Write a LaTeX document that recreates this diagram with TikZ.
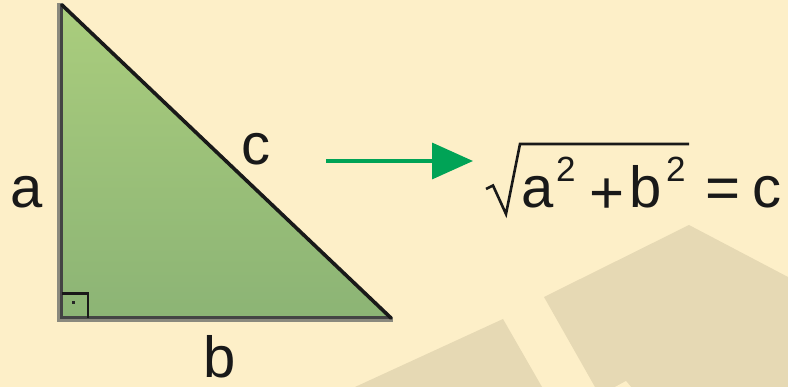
\documentclass[tikz,border=0pt]{standalone}
\usepackage{fontspec}
\setmainfont{Liberation Sans}
\usetikzlibrary{arrows.meta}
\definecolor{bgcream}{HTML}{FDEFC8}
\definecolor{bgshape}{HTML}{E6D9B4}
\definecolor{tritop}{HTML}{AACD7D}
\definecolor{tribot}{HTML}{8CB475}
\definecolor{edgegray}{HTML}{8A897E}
\definecolor{edgedark}{HTML}{444444}
\definecolor{arrowgreen}{HTML}{00A356}
\tikzset{
  lbl/.style={inner sep=0pt, anchor=base west, font=\fontsize{58}{60}\selectfont, text=black!90},
  sup/.style={inner sep=0pt, anchor=base west, font=\fontsize{35}{36}\selectfont, text=black!90},
  op/.style={inner sep=0pt, anchor=center, font=\fontsize{60}{62}\selectfont, text=black!90},
  arrowline/.style={draw=arrowgreen, line width=3.5pt, -{Triangle[length=41pt,width=36pt]}},
}
\begin{document}
\begin{tikzpicture}[x=1pt,y=-1pt]
\useasboundingbox (0,0) rectangle (788,387);
\fill[bgcream] (0,0) rectangle (788,387);
% background decoration
\fill[bgshape] (544,297) -- (689,225) -- (788,277) -- (788,387) -- (595,387) -- cycle;
\fill[bgshape] (355,387) -- (503,319) -- (542,387) -- cycle;
\fill[bgcream] (615,387) -- (626,381) -- (631,387) -- cycle;
% triangle
\coordinate (A) at (62,5);
\coordinate (C) at (62,318);
\coordinate (B) at (391,318);
\shade[top color=tritop, bottom color=tribot] (A) -- (C) -- (B) -- cycle;
\draw[edgegray, line width=6pt] (60,3) -- (60,322);
\draw[edgegray, line width=5pt] (58,320) -- (393,320);
\draw[edgedark, line width=3.2pt] (61.5,4) -- (61.5,317.5) -- (391,317.5);
\draw[black!90, line width=3.6pt, line cap=round] (A) -- (B);
% right angle mark
\draw[black!90, line width=2.8pt] (62,293.5) -- (88,293.5) -- (88,318);
\fill[black!85] (71.5,301.5) rectangle (74.5,304.5);
% labels
\node[lbl] (la) at (10,208) {a};
\node[lbl] (lc) at (241,165) {c};
\node[lbl] (lb) at (203,378) {b};
% arrow
\coordinate (arrS) at (326,161);
\coordinate (arrE) at (473,161);
\draw[arrowline] (arrS) -- (arrE);
% formula
\draw[black!90, line width=2.6pt, line join=miter] (486,189) -- (493,185.5) -- (506,214) -- (520,144) -- (689,144);
\node[lbl] (fa) at (521,208) {a};
\node[sup] (fa2) at (556,182) {2};
\node[op] (fplus) at (607,196) {+};
\node[lbl] (fb) at (629,208) {b};
\node[sup] (fb2) at (666,182) {2};
\node[op] (feq) at (723,194) {=};
\node[lbl] (fc) at (752,208) {c};
\end{tikzpicture}
\end{document}
